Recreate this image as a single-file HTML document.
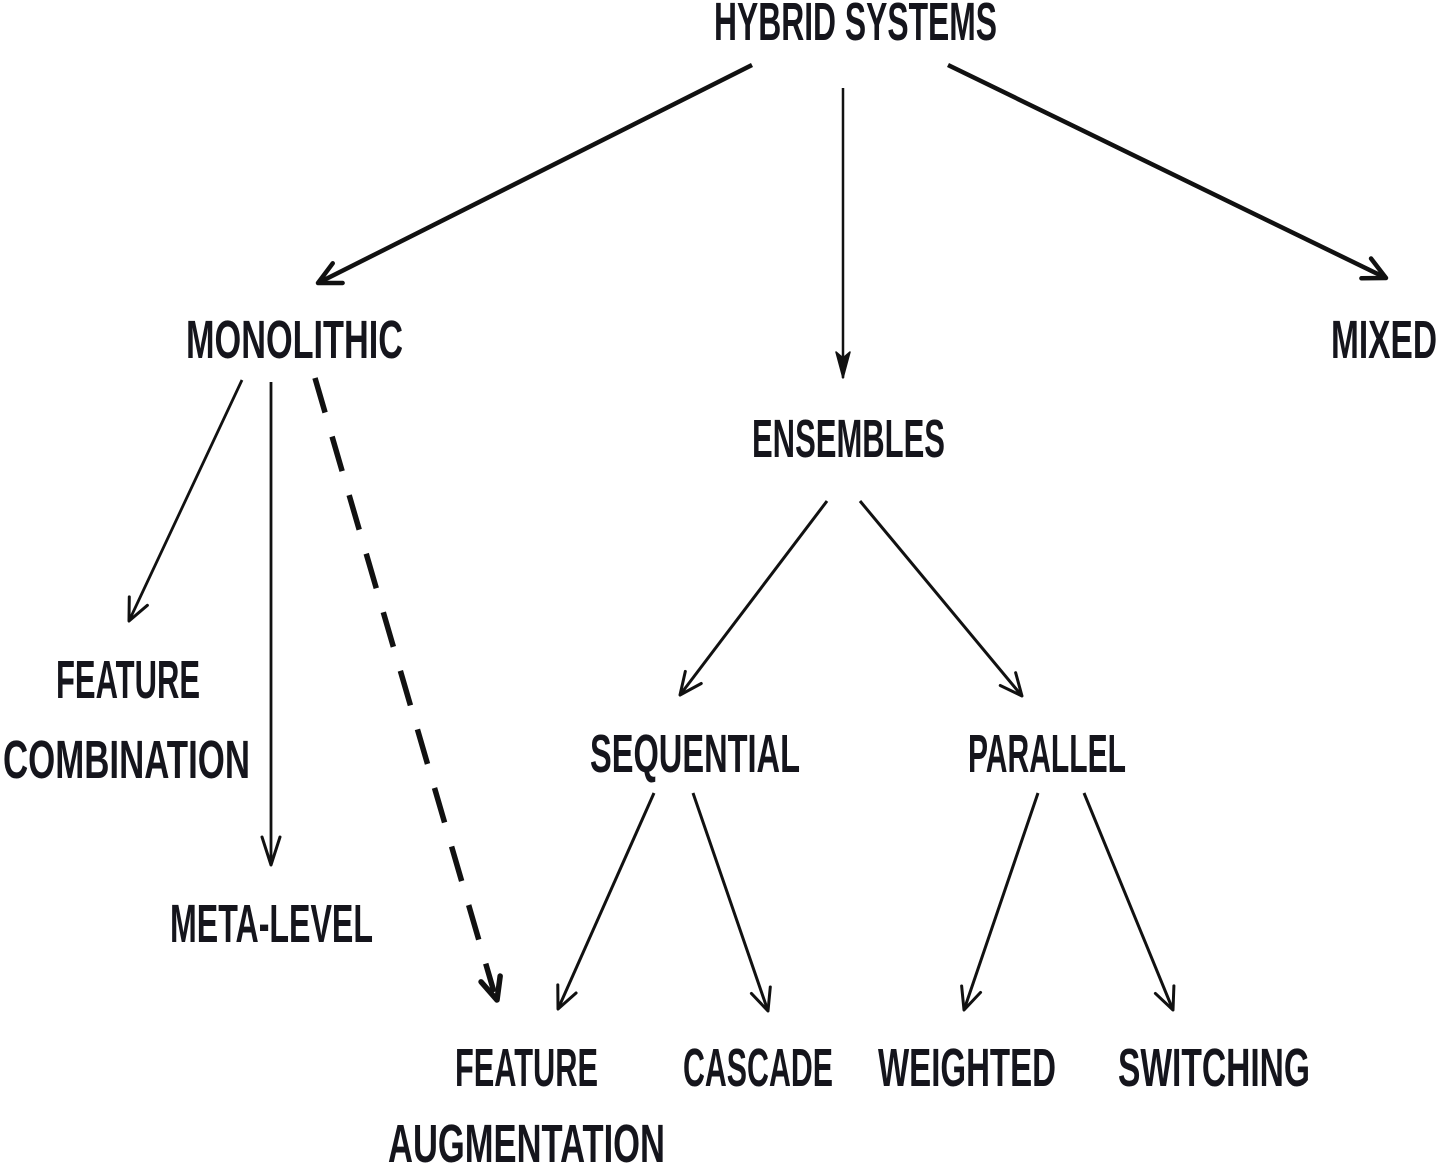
<!DOCTYPE html>
<html>
<head>
<meta charset="utf-8">
<style>
  html,body{margin:0;padding:0;background:#fff;}
  svg{display:block;}
  text{font-family:"Liberation Sans Narrow","Liberation Sans",sans-serif;font-weight:bold;font-size:54px;fill:#15151c;}
</style>
</head>
<body>
<svg width="1443" height="1167" viewBox="0 0 1443 1167" xmlns="http://www.w3.org/2000/svg">
  <defs>
    <marker id="thick" viewBox="-30 -20 36 40" refX="0" refY="0" markerWidth="36" markerHeight="40" markerUnits="userSpaceOnUse" orient="auto">
      <path d="M-22,-11 L0,0 L-22,11" fill="none" stroke="#111" stroke-width="4.5" stroke-linecap="round" stroke-linejoin="round"/>
    </marker>
    <marker id="thin" viewBox="-30 -20 36 40" refX="0" refY="0" markerWidth="36" markerHeight="40" markerUnits="userSpaceOnUse" orient="auto">
      <path d="M-22,-10 L0,0 L-22,10" fill="none" stroke="#111" stroke-width="3" stroke-linecap="round" stroke-linejoin="round"/>
    </marker>
    <marker id="narrow" viewBox="-34 -20 40 40" refX="0" refY="0" markerWidth="40" markerHeight="40" markerUnits="userSpaceOnUse" orient="auto">
      <path d="M-28,-9 L0,0 L-28,9" fill="none" stroke="#111" stroke-width="3" stroke-linecap="round" stroke-linejoin="round"/>
    </marker>
    <marker id="narrowfill" viewBox="-34 -20 40 40" refX="0" refY="0" markerWidth="40" markerHeight="40" markerUnits="userSpaceOnUse" orient="auto">
      <path d="M-26,-7 L0,0 L-26,7 L-20,0 Z" fill="#111" stroke="#111" stroke-width="1.5" stroke-linejoin="round"/>
    </marker>
    <marker id="dash" viewBox="-34 -20 40 40" refX="0" refY="0" markerWidth="40" markerHeight="40" markerUnits="userSpaceOnUse" orient="auto">
      <path d="M-22,-10 L0,0 L-22,10" fill="none" stroke="#111" stroke-width="5.5" stroke-linecap="round" stroke-linejoin="round"/>
    </marker>
  </defs>

  <!-- Top-level connectors -->
  <line x1="752" y1="65" x2="318" y2="283" stroke="#111" stroke-width="4.5" marker-end="url(#thick)"/>
  <line x1="948" y1="65" x2="1386" y2="278" stroke="#111" stroke-width="4.5" marker-end="url(#thick)"/>
  <line x1="843" y1="88" x2="843" y2="378" stroke="#111" stroke-width="2.5" marker-end="url(#narrowfill)"/>

  <!-- Monolithic children -->
  <line x1="242" y1="380" x2="129" y2="621" stroke="#111" stroke-width="2.8" marker-end="url(#thin)"/>
  <line x1="271" y1="382" x2="271" y2="865" stroke="#111" stroke-width="2.8" marker-end="url(#narrow)"/>
  <line x1="315" y1="378" x2="494" y2="992" stroke="#111" stroke-width="5.5" stroke-dasharray="36 25"/>
  <line x1="480" y1="944" x2="497" y2="1000" stroke="none" marker-end="url(#dash)"/>

  <!-- Ensembles children -->
  <line x1="827" y1="501" x2="680" y2="695" stroke="#111" stroke-width="3" marker-end="url(#thin)"/>
  <line x1="860" y1="501" x2="1022" y2="696" stroke="#111" stroke-width="3" marker-end="url(#thin)"/>

  <!-- Sequential children -->
  <line x1="654" y1="793" x2="558" y2="1009" stroke="#111" stroke-width="3" marker-end="url(#thin)"/>
  <line x1="693" y1="793" x2="768" y2="1011" stroke="#111" stroke-width="3" marker-end="url(#thin)"/>

  <!-- Parallel children -->
  <line x1="1038" y1="793" x2="964" y2="1010" stroke="#111" stroke-width="3" marker-end="url(#thin)"/>
  <line x1="1084" y1="793" x2="1173" y2="1010" stroke="#111" stroke-width="3" marker-end="url(#thin)"/>

  <!-- Labels -->
  <text x="714" y="40" textLength="283" lengthAdjust="spacingAndGlyphs">HYBRID SYSTEMS</text>
  <text x="186" y="358" textLength="217" lengthAdjust="spacingAndGlyphs">MONOLITHIC</text>
  <text x="1331" y="358" textLength="106" lengthAdjust="spacingAndGlyphs">MIXED</text>
  <text x="752" y="457" textLength="193" lengthAdjust="spacingAndGlyphs">ENSEMBLES</text>
  <text x="56" y="698" textLength="144" lengthAdjust="spacingAndGlyphs">FEATURE</text>
  <text x="3" y="778" textLength="247" lengthAdjust="spacingAndGlyphs">COMBINATION</text>
  <text x="170" y="942" textLength="203" lengthAdjust="spacingAndGlyphs">META-LEVEL</text>
  <text x="590" y="772" textLength="210" lengthAdjust="spacingAndGlyphs">SEQUENTIAL</text>
  <text x="968" y="772" textLength="158" lengthAdjust="spacingAndGlyphs">PARALLEL</text>
  <text x="455" y="1086" textLength="143" lengthAdjust="spacingAndGlyphs">FEATURE</text>
  <text x="388" y="1162" textLength="277" lengthAdjust="spacingAndGlyphs">AUGMENTATION</text>
  <text x="683" y="1086" textLength="150" lengthAdjust="spacingAndGlyphs">CASCADE</text>
  <text x="878" y="1086" textLength="178" lengthAdjust="spacingAndGlyphs">WEIGHTED</text>
  <text x="1118" y="1086" textLength="192" lengthAdjust="spacingAndGlyphs">SWITCHING</text>
</svg>
</body>
</html>
